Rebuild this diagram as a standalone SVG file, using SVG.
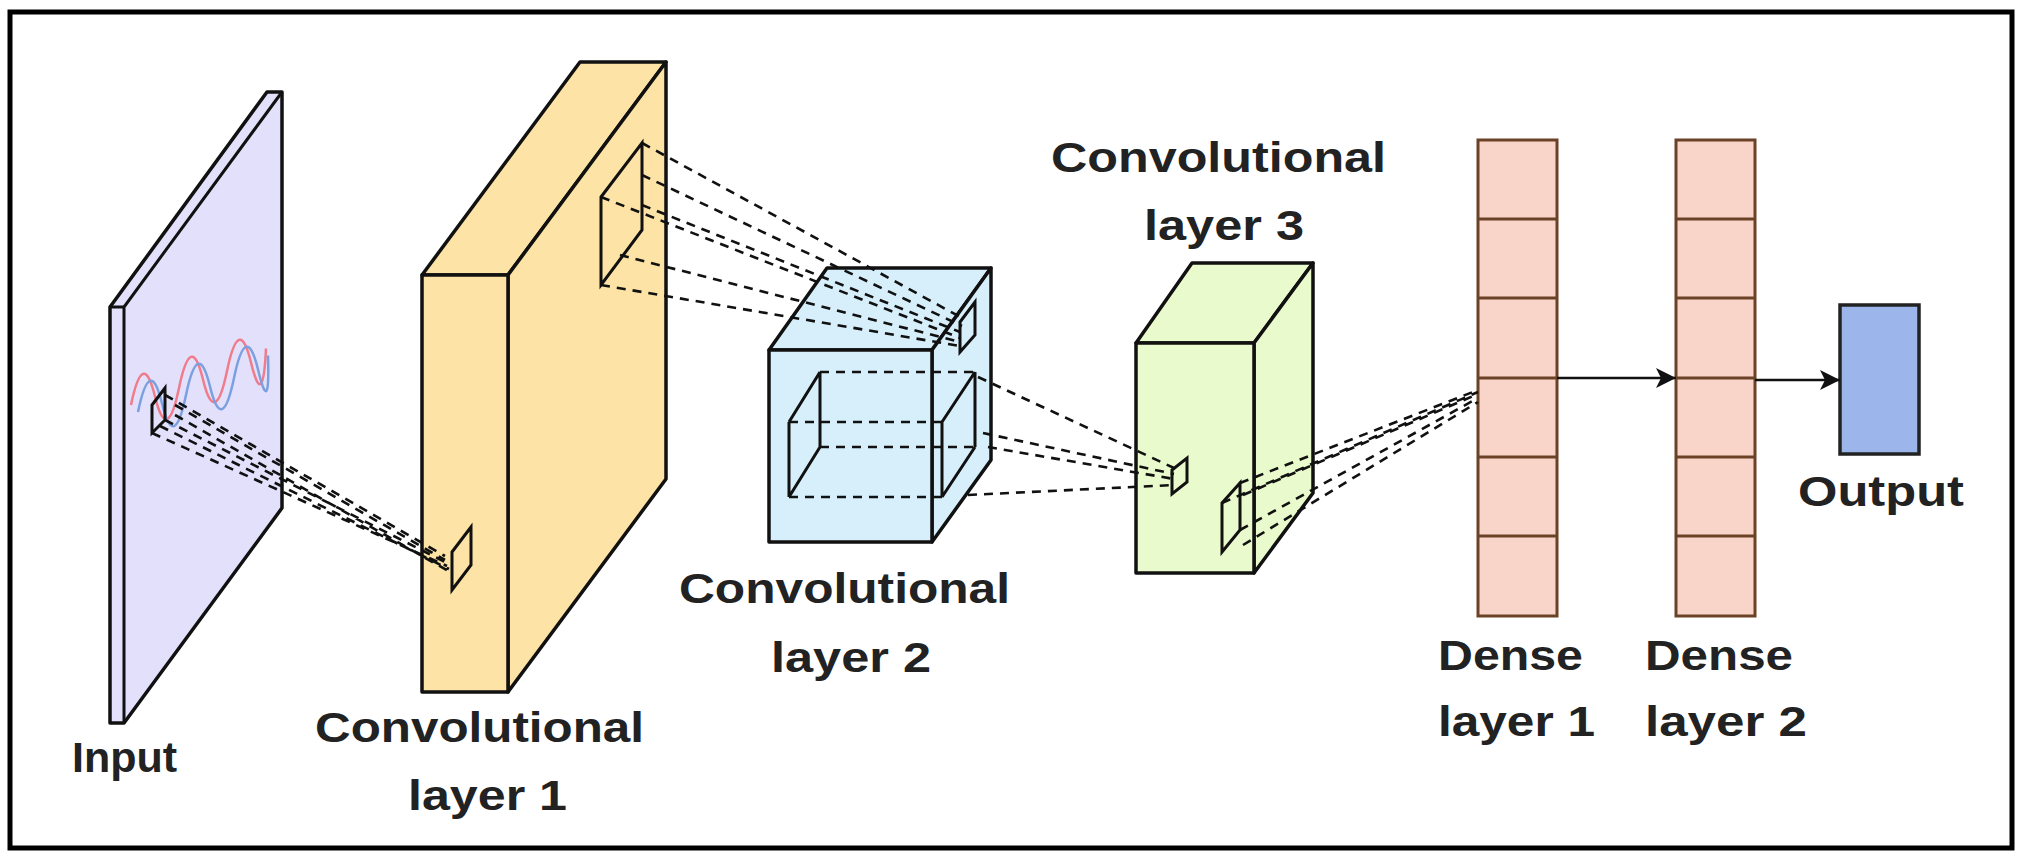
<svg xmlns="http://www.w3.org/2000/svg" width="2022" height="861" viewBox="0 0 2022 861">
<style>
.o{stroke:#111;stroke-width:3.5;stroke-linejoin:round}
.w{fill:none;stroke:#111;stroke-width:3}
.d{fill:none;stroke:#111;stroke-width:2.6;stroke-dasharray:9,7}
.c{font-family:"Liberation Sans","Open Sans",sans-serif;font-weight:bold;fill:#222;font-size:43px}
.dn{fill:#f8d5c8;stroke:#6b4226;stroke-width:3}
</style>
<defs>
<marker id="ah" viewBox="0 0 10 10" refX="10" refY="5" markerWidth="24" markerHeight="20" markerUnits="userSpaceOnUse" orient="auto"><path d="M0,0 L10,5 L0,10 L2.5,5z" fill="#111"/></marker></defs>
<rect x="10" y="12" width="2002" height="836" fill="#fff" stroke="#000" stroke-width="5"/>

<g id="input">
<polygon class="o" fill="#e3e0fc" points="110,307 267,92 282,92 282,508 124,723 110,723"/>
<polyline class="w" points="124,723 124,307 282,92"/>
<line class="w" x1="110" y1="307" x2="124" y2="307"/>
<path d="M131,405 q12,-58 24,-8.5 t24,-8.5 t24,-8.5 t24,-8.5 t24,-8.5 t15,-14" fill="none" stroke="#f07b8a" stroke-width="2.5"/>
<path d="M138,412 q12,-58 24,-8.5 t24,-8.5 t24,-8.5 t24,-8.5 t24,-8.5 t10,-14" fill="none" stroke="#7aa0e0" stroke-width="2.5"/>
<polygon class="w" points="152,405 165,388 165,420 152,433"/>
<text class="c" x="72" y="772">Input</text>
</g>

<g id="conv1">
<polygon class="o" fill="#fde3a5" points="422,275 580,62 666,62 508,275"/>
<polygon class="o" fill="#fde3a5" points="508,275 666,62 666,479 508,692"/>
<rect class="o" fill="#fde3a5" x="422" y="275" width="86" height="417"/>
<polygon class="w" points="601,197 642,143 642,230 601,285"/>
<polygon class="w" points="452,552 471,527 471,565 452,590"/>
<text class="c" x="315" y="742" textLength="329" lengthAdjust="spacingAndGlyphs">Convolutional</text>
<text class="c" x="408" y="810" textLength="159" lengthAdjust="spacingAndGlyphs">layer 1</text>
</g>

<g id="conv2">
<polygon class="o" fill="#d7effb" points="769,350 827,268 991,268 932,350"/>
<polygon class="o" fill="#d7effb" points="932,350 991,268 991,460 932,542"/>
<rect class="o" fill="#d7effb" x="769" y="350" width="163" height="192"/>
<polygon class="w" points="960,322 975,302 975,335 960,352"/>
<path class="w" d="M820,372 V447 M975,372 V447 M789,422 V497 M942,422 V497 M789,422 L820,372 M789,497 L820,447 M942,422 L975,372 M942,497 L975,447"/>
<path class="d" d="M820,372 H975 M820,447 H975 M789,422 H942 M789,497 H942"/>
<text class="c" x="679" y="603" textLength="331" lengthAdjust="spacingAndGlyphs">Convolutional</text>
<text class="c" x="771" y="672" textLength="160" lengthAdjust="spacingAndGlyphs">layer 2</text>
</g>

<g id="conv3">
<polygon class="o" fill="#e9fbcc" points="1136,343 1192,263 1313,263 1254,343"/>
<polygon class="o" fill="#e9fbcc" points="1254,343 1313,263 1313,493 1254,573"/>
<rect class="o" fill="#e9fbcc" x="1136" y="343" width="118" height="230"/>
<polygon class="w" points="1172,470 1187,458 1187,482 1172,494"/>
<polygon class="w" points="1222,503 1240,483 1240,530 1222,552"/>
<text class="c" x="1051" y="172" textLength="335" lengthAdjust="spacingAndGlyphs">Convolutional</text>
<text class="c" x="1144" y="240" textLength="160" lengthAdjust="spacingAndGlyphs">layer 3</text>
</g>

<g id="dense1">
<rect class="dn" x="1478" y="140" width="79" height="476"/>
<path d="M1478,219 H1557 M1478,298 H1557 M1478,378 H1557 M1478,457 H1557 M1478,536 H1557" stroke="#6b4226" stroke-width="3"/>
<text class="c" x="1438" y="670" textLength="145" lengthAdjust="spacingAndGlyphs">Dense</text>
<text class="c" x="1438" y="736" textLength="157" lengthAdjust="spacingAndGlyphs">layer 1</text>
</g>
<g id="dense2">
<rect class="dn" x="1676" y="140" width="79" height="476"/>
<path d="M1676,219 H1755 M1676,298 H1755 M1676,378 H1755 M1676,457 H1755 M1676,536 H1755" stroke="#6b4226" stroke-width="3"/>
<text class="c" x="1645" y="670" textLength="148" lengthAdjust="spacingAndGlyphs">Dense</text>
<text class="c" x="1645" y="736" textLength="162" lengthAdjust="spacingAndGlyphs">layer 2</text>
</g>
<g id="output">
<rect x="1840" y="305" width="79" height="149" fill="#9cb6eb" stroke="#222" stroke-width="3.5"/>
<text class="c" x="1798" y="506" textLength="166" lengthAdjust="spacingAndGlyphs">Output</text>
</g>

<g id="connectors">
<path class="d" d="M165,395 L445,556 M175,405 L445,560 M165,420 L447,563 M152,433 L447,566 M160,426 L449,569 M175,415 L450,572"/>
<path class="d" d="M642,143 L962,318 M642,175 L962,326 M642,205 L960,332 M601,197 L960,338 M620,255 L960,342 M601,285 L960,346"/>
<path class="d" d="M978,377 L1174,468 M983,433 L1174,474 M988,447 L1174,479 M968,495 L1174,485"/>
<path class="d" d="M1240,483 L1478,390 M1243,495 L1478,394 M1240,530 L1478,398 M1243,545 L1478,402 M1222,503 L1478,392"/>
<line x1="1557" y1="378" x2="1676" y2="378" stroke="#111" stroke-width="2.5" marker-end="url(#ah)"/>
<line x1="1755" y1="380" x2="1840" y2="380" stroke="#111" stroke-width="2.5" marker-end="url(#ah)"/>
</g>
</svg>
